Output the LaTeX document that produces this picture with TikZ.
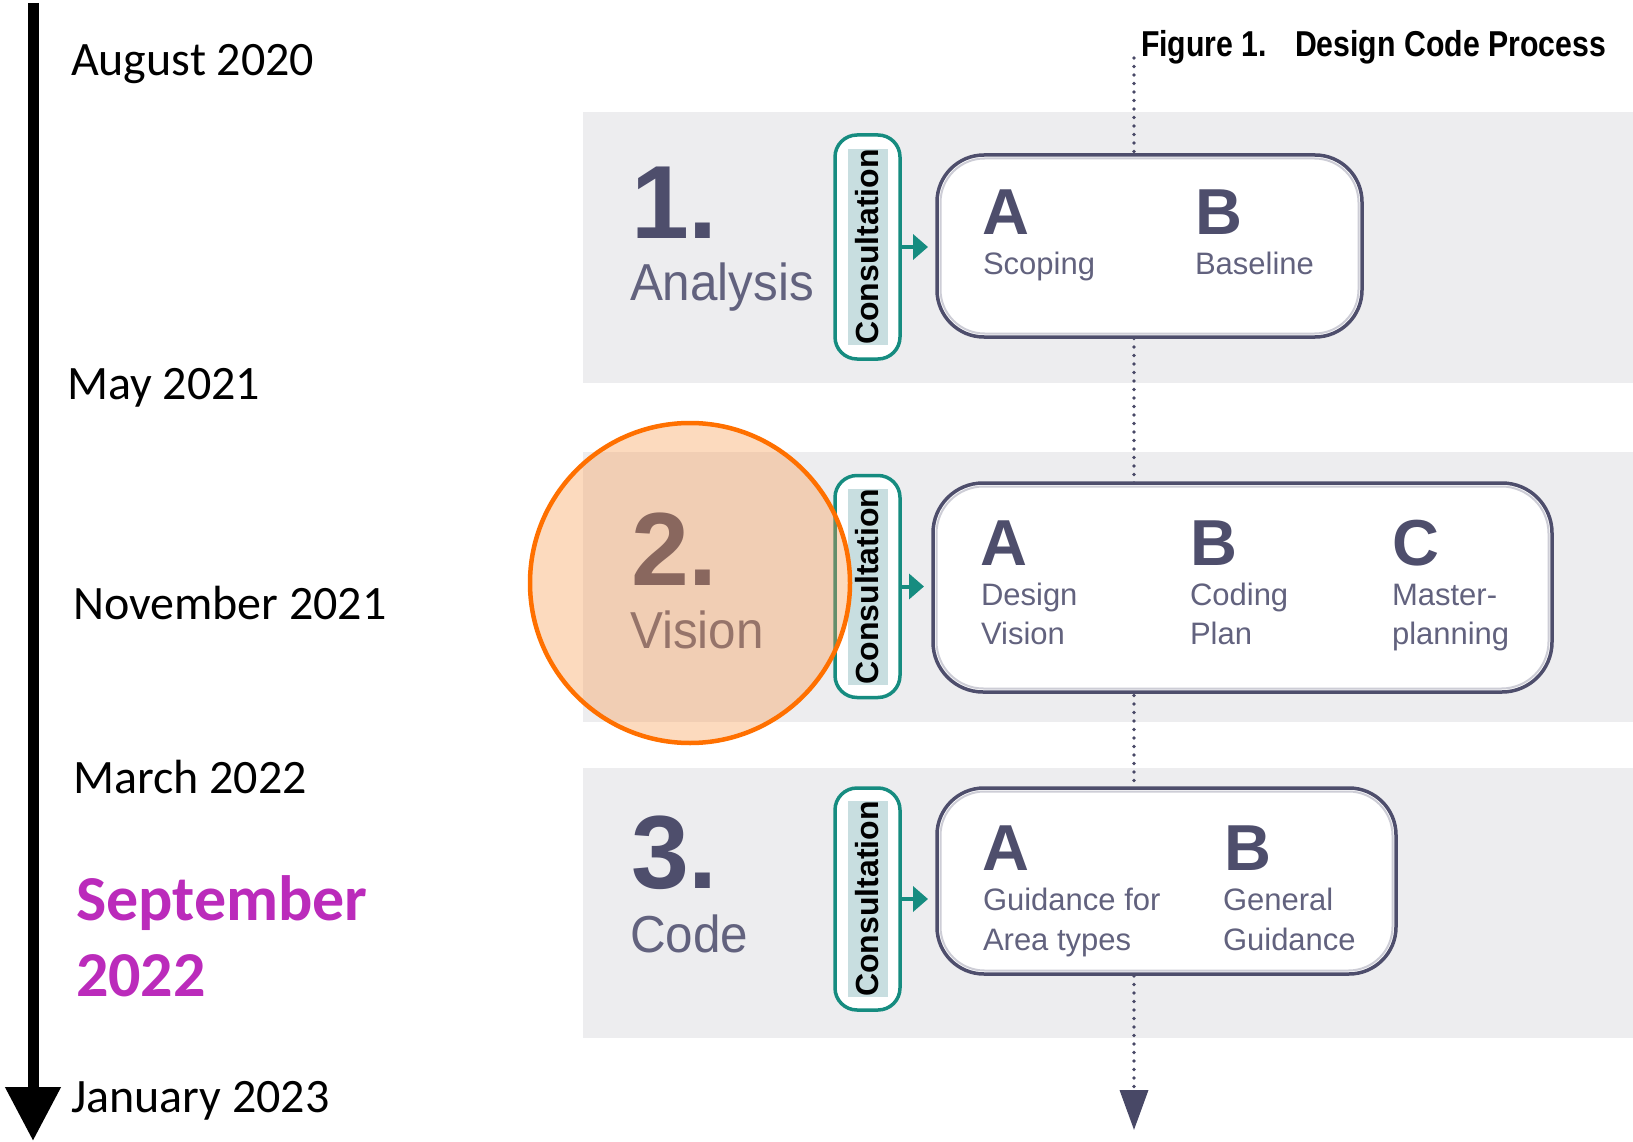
\documentclass[tikz,border=0pt]{standalone}
\usepackage{fontspec}
\setmainfont{Liberation Sans}
\newfontfamily\calibrifont{Carlito}
\newfontfamily\titlefont[FakeStretch=0.84]{Liberation Sans}
\newfontfamily\stagefont[FakeStretch=0.95]{Liberation Sans}
\usetikzlibrary{arrows.meta}

\definecolor{bandgrey}{RGB}{237,237,239}
\definecolor{slate}{RGB}{78,78,108}
\definecolor{subgrey}{RGB}{98,98,126}
\definecolor{boxinner}{RGB}{205,205,214}
\definecolor{tealline}{RGB}{22,140,128}
\definecolor{tealfill}{RGB}{200,222,224}
\definecolor{datepurple}{RGB}{187,43,187}
\definecolor{ringorange}{RGB}{255,112,0}
\definecolor{ringfill}{RGB}{249,150,70}
\definecolor{dotcol}{RGB}{72,72,102}

\begin{document}
\begin{tikzpicture}[x=1pt,y=-1pt,
  every node/.style={inner sep=0pt, outer sep=0pt},
  band/.style={fill=bandgrey, anchor=north west, minimum width=1050pt},
  pill/.style={draw=tealline, fill=white, line width=3.5pt, rounded corners=22pt,
    minimum width=65pt},
  consult/.style={fill=tealfill, rotate=90, minimum width=196pt, minimum height=40pt,
    font=\bfseries\fontsize{32pt}{36pt}\selectfont, text=black},
  stagebox/.style={draw=slate, fill=white, line width=3.5pt},
  innerline/.style={draw=boxinner, line width=2pt},
  letter/.style={anchor=base west, text=slate, font=\bfseries\fontsize{65pt}{70pt}\selectfont},
  sub/.style={anchor=base west, text=subgrey, font=\fontsize{31pt}{36pt}\selectfont},
  stagenum/.style={anchor=base west, text=slate, font=\bfseries\fontsize{104pt}{110pt}\selectfont},
  stageword/.style={anchor=base west, text=subgrey, font=\stagefont\fontsize{52pt}{60pt}\selectfont},
  datelabel/.style={anchor=base west, text=black, font=\calibrifont\fontsize{48pt}{56pt}\selectfont},
  keydate/.style={anchor=base west, text=datepurple, font=\calibrifont\bfseries\fontsize{64pt}{70pt}\selectfont},
  tealarrow/.style={draw=tealline, line width=4pt, -{Triangle[length=15pt,width=25pt]}, shorten >=9pt},
  dotline/.style={draw=dotcol, line width=3.6pt, line cap=round, dash pattern=on 0pt off 8.5pt,
    -{Triangle[length=40pt,width=28pt]}},
  timeline/.style={draw=black, line width=11pt, -{Triangle[length=54pt,width=53pt]}}
]
\useasboundingbox[fill=white] (0,0) rectangle (1633,1142);

% grey bands behind the three stages
\node[band, minimum height=271pt] (band1) at (583,112) {};
\node[band, minimum height=270pt] (band2) at (583,452) {};
\node[band, minimum height=270pt] (band3) at (583,768) {};

% dotted process spine
\coordinate (spinetop) at (1134,58);
\coordinate (spineend) at (1134,1130);
\draw[dotline] (spinetop) -- (spineend);

% consultation pills
\node[pill, minimum height=224pt] (pill1) at (867.5,247) {};
\node[consult] (cons1) at (pill1.center) {Consultation};
\node[pill, minimum height=222pt] (pill2) at (867.5,586.5) {};
\node[consult] (cons2) at (pill2.center) {Consultation};
\node[pill, minimum height=222pt] (pill3) at (867.5,899) {};
\node[consult] (cons3) at (pill3.center) {Consultation};

% stage boxes
\node[stagebox, rounded corners=47pt, minimum width=425pt, minimum height=182pt] (b1) at (1149.5,246) {};
\node[innerline, rounded corners=44pt, minimum width=418pt, minimum height=175pt] (b1in) at (b1.center) {};
\node[stagebox, rounded corners=50pt, minimum width=619pt, minimum height=209pt] (b2) at (1242.5,587.5) {};
\node[innerline, rounded corners=47pt, minimum width=612pt, minimum height=202pt] (b2in) at (b2.center) {};
\node[stagebox, rounded corners=47pt, minimum width=459pt, minimum height=186pt] (b3) at (1166.5,881) {};
\node[innerline, rounded corners=44pt, minimum width=452pt, minimum height=179pt] (b3in) at (b3.center) {};

% consultation feeds each stage
\draw[tealarrow] (pill1.east) -- (pill1.east -| b1.west);
\draw[tealarrow] (pill2.east) -- (pill2.east -| b2.west);
\draw[tealarrow] (pill3.east) -- (pill3.east -| b3.west);

% stage 1 contents
\node[letter] (a1) at (982,235) {A};
\node[letter] (bb1) at (1195,235) {B};
\node[sub] (s1a) at (983,274) {Scoping};
\node[sub] (s1b) at (1195,274) {Baseline};

% stage 2 contents
\node[letter] (a2) at (980,565) {A};
\node[letter] (bb2) at (1190,565) {B};
\node[letter] (c2) at (1392,565) {C};
\node[sub] (s2a1) at (981,605) {Design};
\node[sub] (s2a2) at (981,644) {Vision};
\node[sub] (s2b1) at (1190,605) {Coding};
\node[sub] (s2b2) at (1190,644) {Plan};
\node[sub] (s2c1) at (1392,605) {Master-};
\node[sub] (s2c2) at (1392,644) {planning};

% stage 3 contents
\node[letter] (a3) at (982,870) {A};
\node[letter] (bb3) at (1224,870) {B};
\node[sub] (s3a1) at (983,910) {Guidance for};
\node[sub] (s3a2) at (983,950) {Area types};
\node[sub] (s3b1) at (1223,910) {General};
\node[sub] (s3b2) at (1223,950) {Guidance};

% stage titles
\node[stagenum] (n1) at (631,238) {1.};
\node[stageword] (w1) at (630,300) {Analysis};
\node[stagenum] (n2) at (631,585) {2.};
\node[stageword] (w2) at (630,648) {Vision};
\node[stagenum] (n3) at (631,888) {3.};
\node[stageword] (w3) at (630,952) {Code};

% highlight on the current stage
\node[circle, minimum size=320pt, fill=ringfill, fill opacity=0.35,
      draw=ringorange, draw opacity=1, line width=4.5pt] (ring) at (690,583) {};

% figure caption
\node[anchor=base west, text=black, font=\titlefont\bfseries\fontsize{36pt}{40pt}\selectfont]
  (caption) at (1141,57) {Figure 1.\hspace{28pt}Design Code Process};

% timeline
\coordinate (tltop) at (33,3);
\coordinate (tlend) at (33,1141);
\draw[timeline] (tltop) -- (tlend);

\node[datelabel] (d1) at (71,76) {August 2020};
\node[datelabel] (d2) at (67,399) {May 2021};
\node[datelabel] (d3) at (73,619) {November 2021};
\node[datelabel] (d4) at (73,793) {March 2022};
\node[keydate] (d5a) at (76,920) {September};
\node[keydate] (d5b) at (76,996) {2022};
\node[datelabel] (d6) at (71,1112) {January 2023};
\end{tikzpicture}
\end{document}
